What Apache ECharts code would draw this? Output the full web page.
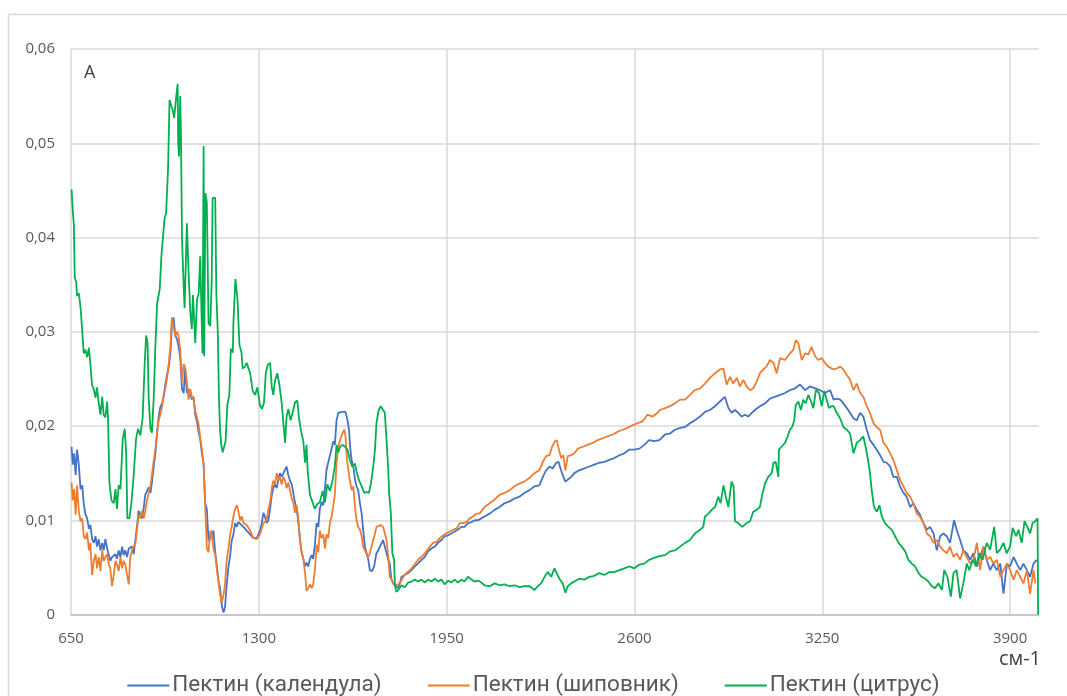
<!DOCTYPE html>
<html>
<head>
<meta charset="utf-8">
<script src="https://cdn.jsdelivr.net/npm/echarts@6/dist/echarts.min.js"></script>
<style>
  html, body { margin: 0; padding: 0; background: #fff; }
  #chart { width: 1067px; height: 696px; }
</style>
</head>
<body>
<div id="chart"></div>
<script>
// легенда и оси
const seriesNames = ['Пектин (календула)', 'Пектин (шиповник)', 'Пектин (цитрус)'];
const xTicks = [650, 1300, 1950, 2600, 3250, 3900];
const yTicks = [0, 0.01, 0.02, 0.03, 0.04, 0.05, 0.06];

// [см-1, поглощение]
const calendula = [
  [652,0.0178],[656,0.0159],[661,0.0171],[666,0.0148],[671,0.0175],[677,0.0159],[683,0.0133],[689,0.0137],[694,0.0118],[700,0.0106],
  [706,0.0102],[712,0.0091],[717,0.0095],[723,0.0080],[729,0.0076],[735,0.0083],[740,0.0072],[746,0.0080],[752,0.0068],[758,0.0076],
  [763,0.0068],[769,0.0080],[775,0.0070],[781,0.0072],[786,0.0057],[792,0.0061],[798,0.0059],[804,0.0064],[809,0.0059],[815,0.0068],
  [821,0.0061],[827,0.0072],[832,0.0063],[838,0.0068],[844,0.0061],[850,0.0070],[855,0.0068],[861,0.0072],[867,0.0064],[873,0.0080],
  [879,0.0095],[884,0.0110],[890,0.0106],[896,0.0102],[902,0.0114],[907,0.0127],[913,0.0129],[919,0.0135],[925,0.0129],[930,0.0140],
  [936,0.0156],[942,0.0171],[948,0.0193],[953,0.0209],[959,0.0220],[965,0.0224],[971,0.0231],[976,0.0243],[982,0.0254],[988,0.0262],
  [994,0.0277],[1000,0.0311],[1005,0.0315],[1011,0.0296],[1017,0.0292],[1022,0.0285],[1028,0.0273],[1034,0.0239],[1040,0.0235],[1045,0.0262],
  [1051,0.0235],[1057,0.0239],[1063,0.0235],[1068,0.0228],[1074,0.0231],[1080,0.0212],[1086,0.0205],[1092,0.0193],[1097,0.0186],[1103,0.0171],
  [1109,0.0160],[1114,0.0119],[1120,0.0112],[1126,0.0078],[1132,0.0081],[1137,0.0085],[1143,0.0089],[1149,0.0066],[1155,0.0051],[1160,0.0036],
  [1166,0.0028],[1172,0.0009],[1178,0.0002],[1183,0.0008],[1189,0.0032],[1195,0.0051],[1201,0.0063],[1206,0.0078],[1212,0.0085],[1218,0.0097],
  [1224,0.0093],[1229,0.0098],[1235,0.0097],[1247,0.0093],[1258,0.0089],[1270,0.0085],[1281,0.0081],[1293,0.0081],[1304,0.0089],[1310,0.0097],
  [1316,0.0108],[1321,0.0104],[1327,0.0097],[1333,0.0100],[1339,0.0112],[1345,0.0127],[1350,0.0134],[1356,0.0138],[1362,0.0134],[1368,0.0144],
  [1373,0.0150],[1379,0.0146],[1385,0.0150],[1391,0.0150],[1396,0.0157],[1402,0.0148],[1408,0.0142],[1414,0.0138],[1419,0.0138],[1425,0.0119],
  [1431,0.0112],[1437,0.0097],[1442,0.0081],[1448,0.0066],[1454,0.0059],[1460,0.0051],[1465,0.0055],[1471,0.0051],[1477,0.0059],[1483,0.0063],
  [1488,0.0059],[1494,0.0074],[1500,0.0097],[1506,0.0093],[1511,0.0112],[1517,0.0119],[1523,0.0116],[1529,0.0134],[1534,0.0153],[1540,0.0161],
  [1546,0.0161],[1552,0.0176],[1558,0.0184],[1563,0.0180],[1569,0.0206],[1575,0.0214],[1581,0.0214],[1587,0.0215],[1592,0.0215],[1600,0.0215],
  [1607,0.0206],[1612,0.0196],[1616,0.0178],[1621,0.0164],[1627,0.0157],[1633,0.0143],[1638,0.0136],[1644,0.0132],[1650,0.0118],[1656,0.0107],
  [1661,0.0090],[1667,0.0072],[1673,0.0065],[1679,0.0058],[1684,0.0047],[1692,0.0046],[1699,0.0051],[1707,0.0065],[1713,0.0068],[1719,0.0072],
  [1725,0.0072],[1730,0.0079],[1736,0.0079],[1742,0.0065],[1748,0.0058],[1753,0.0054],[1759,0.0037],[1765,0.0033],[1773,0.0030],[1782,0.0028],
  [1788,0.0033],[1794,0.0040],[1805,0.0042],[1817,0.0044],[1828,0.0047],[1840,0.0051],[1851,0.0054],[1863,0.0058],[1874,0.0061],[1886,0.0067],
  [1897,0.0070],[1909,0.0072],[1920,0.0076],[1932,0.0079],[1943,0.0083],[1955,0.0084],[1966,0.0086],[1978,0.0088],[1989,0.0090],[2001,0.0093],
  [2012,0.0093],[2024,0.0097],[2036,0.0098],[2047,0.0100],[2059,0.0100],[2070,0.0102],[2081,0.0104],[2099,0.0107],[2116,0.0111],[2133,0.0114],
  [2150,0.0118],[2168,0.0120],[2185,0.0123],[2202,0.0125],[2219,0.0129],[2237,0.0132],[2254,0.0136],[2271,0.0137],[2283,0.0146],[2294,0.0153],
  [2306,0.0157],[2317,0.0155],[2329,0.0161],[2337,0.0162],[2346,0.0153],[2354,0.0146],[2361,0.0141],[2369,0.0143],[2381,0.0146],[2392,0.0150],
  [2409,0.0153],[2427,0.0155],[2444,0.0157],[2461,0.0159],[2478,0.0161],[2496,0.0162],[2513,0.0164],[2530,0.0166],[2548,0.0169],[2565,0.0171],
  [2582,0.0175],[2599,0.0175],[2617,0.0176],[2634,0.0180],[2651,0.0185],[2668,0.0184],[2686,0.0185],[2706,0.0191],[2723,0.0192],[2740,0.0196],
  [2758,0.0198],[2775,0.0199],[2792,0.0203],[2809,0.0206],[2827,0.0210],[2844,0.0215],[2861,0.0217],[2879,0.0221],[2896,0.0226],[2913,0.0231],
  [2925,0.0219],[2936,0.0214],[2948,0.0217],[2959,0.0214],[2971,0.0210],[2983,0.0212],[2994,0.0210],[3006,0.0214],[3017,0.0217],[3034,0.0221],
  [3052,0.0224],[3069,0.0229],[3086,0.0231],[3104,0.0233],[3121,0.0235],[3138,0.0238],[3156,0.0240],[3173,0.0244],[3190,0.0238],[3207,0.0242],
  [3225,0.0240],[3242,0.0238],[3259,0.0235],[3277,0.0238],[3289,0.0228],[3300,0.0229],[3312,0.0228],[3323,0.0224],[3335,0.0219],[3346,0.0214],
  [3358,0.0208],[3369,0.0206],[3381,0.0214],[3392,0.0210],[3404,0.0196],[3415,0.0185],[3427,0.0180],[3438,0.0175],[3450,0.0169],[3462,0.0162],
  [3473,0.0161],[3485,0.0157],[3496,0.0146],[3508,0.0146],[3519,0.0136],[3531,0.0129],[3542,0.0125],[3554,0.0114],[3565,0.0118],[3577,0.0111],
  [3588,0.0106],[3600,0.0097],[3612,0.0090],[3623,0.0093],[3635,0.0086],[3646,0.0068],[3658,0.0083],[3669,0.0086],[3681,0.0083],[3692,0.0076],
  [3706,0.0100],[3715,0.0090],[3727,0.0079],[3738,0.0068],[3750,0.0065],[3762,0.0058],[3773,0.0065],[3785,0.0051],[3796,0.0061],[3808,0.0072],
  [3819,0.0058],[3831,0.0047],[3842,0.0054],[3854,0.0047],[3866,0.0054],[3877,0.0022],[3889,0.0054],[3900,0.0051],[3912,0.0061],[3923,0.0054],
  [3935,0.0047],[3946,0.0054],[3958,0.0047],[3969,0.0040],[3981,0.0054],[3992,0.0058]
];

const rosehip = [
  [652,0.0140],[656,0.0121],[661,0.0133],[666,0.0106],[671,0.0137],[677,0.0110],[683,0.0099],[689,0.0102],[694,0.0083],[700,0.0080],
  [706,0.0087],[712,0.0068],[717,0.0076],[723,0.0042],[729,0.0057],[735,0.0064],[740,0.0049],[746,0.0061],[752,0.0046],[758,0.0068],
  [763,0.0057],[769,0.0061],[775,0.0064],[781,0.0053],[786,0.0049],[792,0.0030],[798,0.0042],[804,0.0057],[809,0.0053],[815,0.0046],
  [821,0.0061],[827,0.0049],[832,0.0057],[838,0.0053],[844,0.0042],[850,0.0032],[855,0.0061],[861,0.0068],[867,0.0072],[873,0.0076],
  [879,0.0091],[884,0.0106],[890,0.0102],[896,0.0110],[902,0.0102],[907,0.0110],[913,0.0121],[919,0.0129],[925,0.0137],[930,0.0148],
  [936,0.0163],[942,0.0175],[948,0.0193],[953,0.0205],[959,0.0212],[965,0.0220],[971,0.0235],[976,0.0239],[982,0.0250],[988,0.0266],
  [994,0.0285],[999,0.0315],[1005,0.0317],[1011,0.0296],[1017,0.0300],[1022,0.0296],[1028,0.0281],[1034,0.0247],[1040,0.0266],[1045,0.0262],
  [1051,0.0247],[1057,0.0228],[1063,0.0239],[1068,0.0231],[1074,0.0228],[1080,0.0216],[1086,0.0209],[1092,0.0201],[1097,0.0188],[1103,0.0175],
  [1109,0.0158],[1114,0.0119],[1120,0.0070],[1126,0.0066],[1132,0.0089],[1137,0.0085],[1143,0.0070],[1149,0.0063],[1155,0.0047],[1160,0.0036],
  [1166,0.0021],[1172,0.0013],[1178,0.0021],[1183,0.0032],[1189,0.0059],[1195,0.0070],[1201,0.0085],[1206,0.0093],[1212,0.0104],[1218,0.0112],
  [1224,0.0116],[1229,0.0110],[1235,0.0100],[1241,0.0104],[1247,0.0097],[1258,0.0095],[1270,0.0089],[1281,0.0081],[1293,0.0080],[1304,0.0085],
  [1316,0.0097],[1327,0.0100],[1333,0.0112],[1339,0.0119],[1345,0.0134],[1350,0.0142],[1356,0.0138],[1362,0.0150],[1368,0.0142],[1373,0.0146],
  [1379,0.0138],[1385,0.0146],[1391,0.0142],[1396,0.0134],[1402,0.0140],[1408,0.0138],[1414,0.0123],[1419,0.0119],[1425,0.0108],[1431,0.0116],
  [1437,0.0100],[1442,0.0081],[1448,0.0066],[1454,0.0059],[1460,0.0044],[1465,0.0025],[1471,0.0028],[1477,0.0032],[1483,0.0028],[1488,0.0032],
  [1494,0.0047],[1500,0.0074],[1506,0.0066],[1511,0.0089],[1517,0.0081],[1523,0.0085],[1529,0.0070],[1534,0.0085],[1540,0.0081],[1546,0.0097],
  [1552,0.0104],[1558,0.0116],[1563,0.0127],[1569,0.0161],[1575,0.0178],[1581,0.0185],[1589,0.0192],[1596,0.0196],[1600,0.0189],[1605,0.0164],
  [1610,0.0153],[1615,0.0143],[1621,0.0132],[1627,0.0136],[1633,0.0114],[1638,0.0100],[1644,0.0093],[1650,0.0090],[1656,0.0083],[1661,0.0072],
  [1667,0.0068],[1673,0.0068],[1679,0.0061],[1684,0.0065],[1690,0.0072],[1696,0.0079],[1702,0.0086],[1707,0.0093],[1713,0.0095],[1722,0.0095],
  [1730,0.0093],[1736,0.0091],[1742,0.0079],[1748,0.0061],[1753,0.0040],[1759,0.0037],[1765,0.0033],[1776,0.0031],[1788,0.0033],[1800,0.0040],
  [1811,0.0044],[1823,0.0047],[1834,0.0051],[1846,0.0056],[1857,0.0060],[1869,0.0063],[1880,0.0067],[1892,0.0072],[1903,0.0076],[1915,0.0077],
  [1926,0.0081],[1938,0.0084],[1949,0.0086],[1961,0.0088],[1972,0.0090],[1984,0.0091],[1995,0.0097],[2007,0.0097],[2018,0.0098],[2030,0.0102],
  [2041,0.0104],[2053,0.0107],[2064,0.0107],[2081,0.0114],[2099,0.0118],[2116,0.0122],[2133,0.0127],[2150,0.0129],[2168,0.0132],[2185,0.0136],
  [2202,0.0139],[2219,0.0141],[2237,0.0145],[2254,0.0150],[2271,0.0153],[2283,0.0162],[2294,0.0168],[2306,0.0169],[2315,0.0178],[2323,0.0183],
  [2331,0.0185],[2338,0.0176],[2346,0.0166],[2354,0.0169],[2361,0.0153],[2369,0.0168],[2381,0.0169],[2392,0.0171],[2404,0.0176],[2421,0.0178],
  [2438,0.0180],[2455,0.0182],[2473,0.0185],[2490,0.0187],[2507,0.0189],[2525,0.0191],[2542,0.0194],[2559,0.0196],[2576,0.0198],[2594,0.0201],
  [2611,0.0203],[2628,0.0205],[2645,0.0212],[2663,0.0210],[2680,0.0214],[2688,0.0217],[2706,0.0219],[2723,0.0221],[2740,0.0224],[2758,0.0228],
  [2775,0.0228],[2792,0.0233],[2809,0.0238],[2827,0.0240],[2844,0.0245],[2861,0.0251],[2879,0.0256],[2896,0.0260],[2908,0.0261],[2919,0.0244],
  [2931,0.0252],[2942,0.0245],[2954,0.0251],[2965,0.0242],[2977,0.0249],[2988,0.0242],[3000,0.0238],[3011,0.0240],[3023,0.0247],[3034,0.0256],
  [3046,0.0260],[3057,0.0263],[3069,0.0270],[3081,0.0267],[3092,0.0256],[3104,0.0272],[3121,0.0270],[3138,0.0277],[3150,0.0281],[3158,0.0291],
  [3167,0.0288],[3179,0.0270],[3190,0.0277],[3202,0.0276],[3213,0.0284],[3225,0.0274],[3236,0.0270],[3248,0.0272],[3259,0.0267],[3271,0.0263],
  [3289,0.0260],[3300,0.0261],[3312,0.0263],[3323,0.0260],[3335,0.0254],[3346,0.0249],[3358,0.0238],[3369,0.0245],[3381,0.0235],[3392,0.0231],
  [3404,0.0221],[3415,0.0214],[3427,0.0203],[3438,0.0199],[3450,0.0196],[3462,0.0182],[3473,0.0178],[3485,0.0171],[3496,0.0164],[3508,0.0153],
  [3519,0.0143],[3531,0.0136],[3542,0.0129],[3554,0.0125],[3565,0.0118],[3577,0.0107],[3588,0.0104],[3600,0.0097],[3612,0.0086],[3623,0.0083],
  [3635,0.0076],[3646,0.0079],[3658,0.0072],[3669,0.0068],[3681,0.0065],[3692,0.0072],[3704,0.0061],[3715,0.0065],[3727,0.0058],[3738,0.0068],
  [3750,0.0061],[3762,0.0054],[3773,0.0058],[3785,0.0076],[3796,0.0047],[3808,0.0072],[3819,0.0058],[3831,0.0061],[3842,0.0054],[3854,0.0058],
  [3866,0.0040],[3877,0.0047],[3889,0.0054],[3900,0.0047],[3912,0.0037],[3923,0.0047],[3935,0.0040],[3946,0.0033],[3958,0.0047],[3969,0.0022],
  [3981,0.0047],[3987,0.0033]
];

const citrus = [
  [652,0.0451],[656,0.0429],[660,0.0413],[663,0.0357],[668,0.0353],[671,0.0338],[677,0.0341],[683,0.0326],[689,0.0300],[694,0.0277],
  [700,0.0281],[706,0.0273],[712,0.0283],[717,0.0266],[723,0.0243],[729,0.0239],[735,0.0230],[740,0.0241],[746,0.0224],[752,0.0212],
  [758,0.0231],[763,0.0212],[769,0.0209],[775,0.0226],[778,0.0209],[783,0.0140],[790,0.0121],[798,0.0118],[804,0.0133],[809,0.0112],
  [815,0.0137],[821,0.0133],[829,0.0186],[836,0.0197],[841,0.0171],[845,0.0102],[852,0.0102],[859,0.0118],[867,0.0148],[875,0.0186],
  [882,0.0197],[890,0.0190],[898,0.0209],[905,0.0266],[910,0.0296],[915,0.0288],[919,0.0228],[925,0.0197],[930,0.0193],[936,0.0228],
  [942,0.0285],[948,0.0330],[957,0.0345],[963,0.0381],[968,0.0381],[974,0.0421],[979,0.0425],[986,0.0474],[991,0.0546],[997,0.0544],
  [1002,0.0535],[1007,0.0527],[1013,0.0546],[1019,0.0563],[1021,0.0500],[1024,0.0486],[1028,0.0550],[1031,0.0500],[1034,0.0400],[1038,0.0365],
  [1043,0.0325],[1048,0.0380],[1051,0.0415],[1057,0.0362],[1063,0.0320],[1068,0.0303],[1072,0.0339],[1080,0.0288],[1086,0.0334],[1092,0.0341],
  [1097,0.0380],[1101,0.0379],[1105,0.0277],[1109,0.0497],[1111,0.0274],[1115,0.0447],[1120,0.0437],[1126,0.0309],[1132,0.0306],[1137,0.0354],
  [1140,0.0442],[1149,0.0442],[1153,0.0341],[1158,0.0300],[1162,0.0230],[1166,0.0195],[1170,0.0180],[1175,0.0172],[1178,0.0172],[1185,0.0184],
  [1191,0.0222],[1198,0.0233],[1203,0.0282],[1210,0.0278],[1212,0.0309],[1219,0.0356],[1226,0.0335],[1233,0.0286],[1240,0.0278],[1244,0.0261],
  [1252,0.0263],[1258,0.0267],[1264,0.0267],[1270,0.0256],[1279,0.0237],[1287,0.0233],[1295,0.0241],[1304,0.0222],[1311,0.0218],[1318,0.0225],
  [1324,0.0256],[1331,0.0265],[1339,0.0267],[1345,0.0241],[1350,0.0233],[1356,0.0248],[1364,0.0256],[1371,0.0244],[1379,0.0225],[1385,0.0203],
  [1391,0.0182],[1396,0.0210],[1402,0.0218],[1410,0.0206],[1417,0.0214],[1425,0.0225],[1433,0.0227],[1440,0.0206],[1446,0.0195],[1454,0.0184],
  [1460,0.0161],[1465,0.0180],[1469,0.0153],[1477,0.0127],[1486,0.0119],[1494,0.0112],[1502,0.0117],[1511,0.0119],[1521,0.0131],[1529,0.0119],
  [1537,0.0138],[1546,0.0131],[1555,0.0142],[1563,0.0157],[1569,0.0180],[1575,0.0172],[1581,0.0178],[1589,0.0180],[1598,0.0178],[1607,0.0175],
  [1615,0.0164],[1623,0.0157],[1633,0.0160],[1638,0.0152],[1646,0.0143],[1656,0.0136],[1665,0.0129],[1673,0.0130],[1681,0.0129],[1688,0.0139],
  [1696,0.0157],[1702,0.0175],[1707,0.0203],[1715,0.0217],[1722,0.0221],[1730,0.0217],[1736,0.0214],[1742,0.0185],[1748,0.0153],[1751,0.0129],
  [1757,0.0107],[1762,0.0065],[1768,0.0058],[1771,0.0031],[1776,0.0024],[1785,0.0027],[1794,0.0031],[1805,0.0029],[1817,0.0034],[1828,0.0035],
  [1840,0.0037],[1851,0.0035],[1863,0.0037],[1874,0.0034],[1886,0.0037],[1897,0.0035],[1909,0.0038],[1920,0.0035],[1932,0.0037],[1943,0.0032],
  [1955,0.0036],[1966,0.0034],[1978,0.0037],[1989,0.0034],[2001,0.0037],[2012,0.0035],[2024,0.0040],[2036,0.0037],[2047,0.0035],[2059,0.0036],
  [2070,0.0034],[2081,0.0031],[2099,0.0030],[2116,0.0033],[2133,0.0031],[2150,0.0032],[2168,0.0030],[2185,0.0031],[2202,0.0029],[2219,0.0030],
  [2237,0.0030],[2254,0.0026],[2265,0.0030],[2277,0.0033],[2289,0.0040],[2300,0.0045],[2312,0.0040],[2323,0.0049],[2331,0.0044],[2340,0.0038],
  [2352,0.0033],[2361,0.0023],[2369,0.0030],[2381,0.0033],[2392,0.0035],[2409,0.0038],[2427,0.0037],[2444,0.0040],[2461,0.0041],[2478,0.0044],
  [2496,0.0042],[2513,0.0045],[2530,0.0045],[2548,0.0047],[2565,0.0049],[2582,0.0051],[2599,0.0049],[2617,0.0053],[2634,0.0054],[2651,0.0058],
  [2668,0.0060],[2686,0.0062],[2706,0.0063],[2723,0.0067],[2740,0.0068],[2758,0.0072],[2775,0.0076],[2792,0.0079],[2809,0.0086],[2827,0.0090],
  [2838,0.0093],[2844,0.0104],[2856,0.0107],[2867,0.0111],[2879,0.0114],[2890,0.0125],[2898,0.0118],[2908,0.0137],[2916,0.0125],[2925,0.0114],
  [2936,0.0141],[2943,0.0136],[2948,0.0099],[2959,0.0097],[2973,0.0093],[2988,0.0097],[3000,0.0099],[3011,0.0109],[3023,0.0111],[3034,0.0114],
  [3042,0.0127],[3052,0.0139],[3063,0.0146],[3075,0.0150],[3081,0.0161],[3089,0.0162],[3098,0.0146],[3100,0.0175],[3109,0.0178],[3121,0.0182],
  [3130,0.0189],[3138,0.0196],[3146,0.0199],[3153,0.0206],[3158,0.0222],[3167,0.0226],[3176,0.0217],[3184,0.0228],[3192,0.0224],[3202,0.0233],
  [3211,0.0226],[3219,0.0219],[3228,0.0238],[3239,0.0235],[3248,0.0221],[3257,0.0237],[3265,0.0228],[3273,0.0219],[3282,0.0221],[3289,0.0221],
  [3300,0.0214],[3312,0.0208],[3323,0.0199],[3335,0.0196],[3346,0.0192],[3358,0.0171],[3369,0.0182],[3381,0.0185],[3392,0.0189],[3402,0.0175],
  [3410,0.0161],[3415,0.0150],[3421,0.0132],[3429,0.0114],[3439,0.0109],[3448,0.0116],[3456,0.0104],[3467,0.0097],[3479,0.0093],[3490,0.0090],
  [3502,0.0083],[3514,0.0076],[3525,0.0072],[3537,0.0067],[3548,0.0058],[3560,0.0054],[3571,0.0051],[3583,0.0044],[3594,0.0040],[3606,0.0038],
  [3617,0.0035],[3629,0.0030],[3640,0.0028],[3652,0.0033],[3664,0.0026],[3672,0.0047],[3683,0.0040],[3695,0.0019],[3704,0.0044],[3715,0.0047],
  [3727,0.0017],[3738,0.0033],[3750,0.0054],[3759,0.0047],[3771,0.0058],[3782,0.0051],[3794,0.0065],[3805,0.0058],[3819,0.0076],[3831,0.0069],
  [3845,0.0093],[3854,0.0065],[3866,0.0069],[3877,0.0076],[3888,0.0065],[3900,0.0072],[3909,0.0092],[3921,0.0083],[3929,0.0090],[3940,0.0076],
  [3950,0.0099],[3960,0.0093],[3969,0.0086],[3978,0.0097],[3987,0.0099],[3995,0.0102],[3997,0.0000]
];

const colors = ['#4472C4', '#ED7D31', '#00B050'];
const font = '"Open Sans", "Noto Sans", sans-serif';
const legendFont = 'Roboto, "Noto Sans", sans-serif';

const makeSeries = (name, data, color) => ({
    name: name,
    type: 'line',
    data: data,
    showSymbol: false,
    symbol: 'none',
    lineStyle: { color: color, width: 1.8 },
    itemStyle: { color: color },
    emphasis: { disabled: true }
});

var myChart = echarts.init(document.getElementById('chart'), null, { renderer: 'canvas' });

var option = {
    animation: false,
    backgroundColor: '#fff',
    textStyle: { fontFamily: font },
    grid: { left: 71, right: 28, top: 49, bottom: 81.5, containLabel: false },
    xAxis: {
        type: 'value',
        min: xTicks[0],
        max: 4000,
        interval: xTicks[1] - xTicks[0],
        axisLine: { show: true, lineStyle: { color: '#bfbfbf', width: 1.5 } },
        axisTick: { show: false },
        axisLabel: {
            color: '#595959', fontSize: 15, margin: 17, fontFamily: font,
            showMaxLabel: false,
            formatter: v => xTicks.indexOf(v) >= 0 ? String(v) : ''
        },
        splitLine: { show: true, showMaxLine: false, lineStyle: { color: '#d9d9d9', width: 1.5 } }
    },
    yAxis: {
        type: 'value',
        min: yTicks[0],
        max: yTicks[yTicks.length - 1],
        interval: 0.01,
        axisLine: { show: false },
        axisTick: { show: false },
        axisLabel: {
            color: '#595959', fontSize: 15, margin: 16, fontFamily: font,
            formatter: v => v === 0 ? '0' : v.toFixed(2).replace('.', ',')
        },
        splitLine: { show: true, lineStyle: { color: '#d9d9d9', width: 1.5 } }
    },
    legend: {
        data: seriesNames,
        top: 669,
        left: 'center',
        icon: 'rect',
        itemWidth: 42,
        itemHeight: 2,
        itemGap: 46,
        textStyle: { color: '#595959', fontSize: 22.5, fontFamily: legendFont, padding: [0, 0, 0, -2] }
    },
    graphic: [
        {
            type: 'rect',
            silent: true,
            shape: { x: 8.5, y: 14.5, width: 1080, height: 720 },
            style: { fill: 'none', stroke: '#d9d9d9', lineWidth: 1.5 }
        },
        {
            type: 'text', left: 84, top: 64, silent: true,
            style: { text: 'A', fill: '#404040', font: '18px ' + font }
        },
        {
            type: 'text', right: 26, top: 649, silent: true,
            style: { text: 'см-1', fill: '#404040', font: '20px ' + font }
        }
    ],
    series: [
        makeSeries(seriesNames[0], calendula, colors[0]),
        makeSeries(seriesNames[1], rosehip, colors[1]),
        makeSeries(seriesNames[2], citrus, colors[2])
    ]
};

myChart.setOption(option);
</script>
</body>
</html>
